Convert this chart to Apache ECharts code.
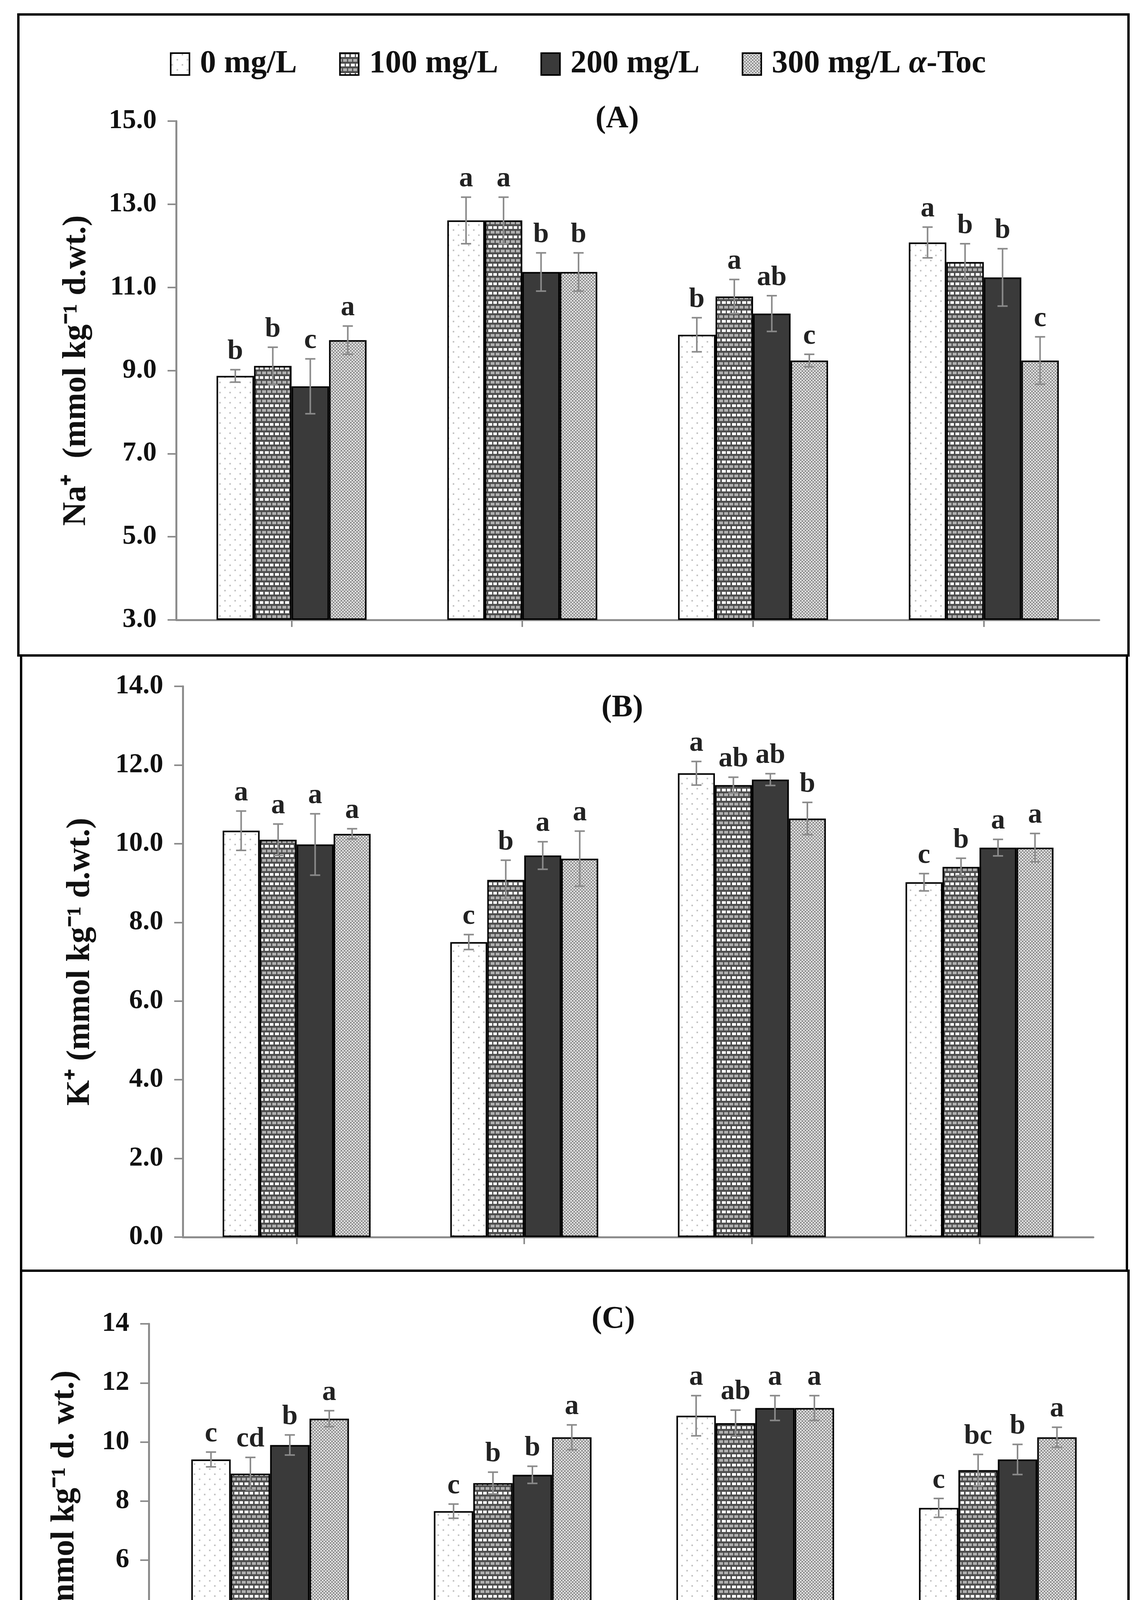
<!DOCTYPE html>
<html>
<head>
<meta charset="utf-8">
<script src="https://cdn.jsdelivr.net/npm/echarts@6/dist/echarts.min.js"></script>
<style>
  html, body { margin: 0; padding: 0; background: #fff; }
  #main { width: 2898px; height: 4947px; }
</style>
</head>
<body>
<div id="main"></div>
<script>
const doses = ['0 mg/L', '100 mg/L', '200 mg/L', '300 mg/L α-Toc']
const treatments = ['Control', 'Saline', 'Control', 'Saline']
const varieties = ['Sabzpari', 'Noori']

const naTicks = [3, 5, 7, 9, 11, 13, 15]
const kTicks = [0, 2, 4, 6, 8, 10, 12, 14]
const caTicks = [0, 2, 4, 6, 8, 10, 12, 14]

// rows = dose, columns = Sabzpari control, Sabzpari saline, Noori control, Noori saline
const naMean = [
  [8.87, 12.61, 9.86, 12.08],
  [9.11, 12.61, 10.78, 11.61],
  [8.62, 11.37, 10.37, 11.24],
  [9.73, 11.37, 9.24, 9.24]
]
const naErr = [
  [0.15, 0.56, 0.41, 0.37],
  [0.45, 0.56, 0.41, 0.44],
  [0.66, 0.46, 0.43, 0.69],
  [0.34, 0.46, 0.15, 0.57]
]
const naLetters = [
  ['b', 'a', 'b', 'a'],
  ['b', 'a', 'a', 'b'],
  ['c', 'b', 'ab', 'b'],
  ['a', 'b', 'c', 'c']
]

const kMean = [
  [10.33, 7.50, 11.79, 9.02],
  [10.10, 9.08, 11.49, 9.41],
  [9.98, 9.70, 11.63, 9.90],
  [10.25, 9.62, 10.64, 9.90]
]
const kErr = [
  [0.50, 0.19, 0.30, 0.22],
  [0.40, 0.50, 0.20, 0.22],
  [0.78, 0.35, 0.15, 0.21],
  [0.13, 0.70, 0.41, 0.36]
]
const kLetters = [
  ['a', 'c', 'a', 'c'],
  ['a', 'b', 'ab', 'b'],
  ['a', 'a', 'ab', 'a'],
  ['a', 'a', 'b', 'a']
]

const caMean = [
  [9.41, 7.66, 10.89, 7.77],
  [8.93, 8.61, 10.64, 9.05],
  [9.90, 8.89, 11.15, 9.41],
  [10.79, 10.16, 11.15, 10.16]
]
const caErr = [
  [0.25, 0.24, 0.68, 0.32],
  [0.55, 0.37, 0.44, 0.53],
  [0.34, 0.29, 0.42, 0.51],
  [0.27, 0.42, 0.42, 0.34]
]
const caLetters = [
  ['c', 'c', 'a', 'c'],
  ['cd', 'b', 'ab', 'bc'],
  ['b', 'b', 'a', 'b'],
  ['a', 'a', 'a', 'a']
]

const FONT = '"Liberation Serif", "Times New Roman", serif'
const GREY = '#8c8c8c'

function makePattern (w, h, draw) {
  let c = document.createElement('canvas')
  c.width = w
  c.height = h
  draw(c.getContext('2d'))
  return { image: c, repeat: 'repeat' }
}

const dotFill = makePattern(26, 26, g => {
  g.fillStyle = '#fff'
  g.fillRect(0, 0, 26, 26)
  g.fillStyle = '#c4c4c4'
  g.fillRect(2, 2, 4, 4)
  g.fillRect(15, 15, 4, 4)
})
const brickFill = makePattern(26, 24, g => {
  g.fillStyle = '#4e4e4e'
  g.fillRect(0, 0, 26, 24)
  g.fillStyle = '#fff'
  g.fillRect(2, 3, 10, 7)
  g.fillRect(15, 3, 9, 7)
  g.fillStyle = '#b0b0b0'
  g.fillRect(8, 15, 10, 7)
  g.fillRect(21, 15, 5, 7)
  g.fillRect(0, 15, 5, 7)
})
const checkFill = makePattern(8, 8, g => {
  g.fillStyle = '#e4e4e4'
  g.fillRect(0, 0, 8, 8)
  g.fillStyle = '#8e8e8e'
  g.fillRect(0, 0, 4, 4)
  g.fillRect(4, 4, 4, 4)
})
const fills = [dotFill, brickFill, '#3a3a3a', checkFill]

const panels = [
  {
    mean: naMean, err: naErr, letters: naLetters, ticks: naTicks, fixed: 1,
    name: 'Na⁺  (mmol kg⁻¹ d.wt.)', nameGap: 213, xIndex: 0,
    grid: { left: 451, top: 310, width: 2363, height: 1277 }
  },
  {
    mean: kMean, err: kErr, letters: kLetters, ticks: kTicks, fixed: 1,
    name: 'K⁺ (mmol kg⁻¹ d.wt.)', nameGap: 220, xIndex: 1,
    grid: { left: 468, top: 1757, width: 2331, height: 1410 }
  },
  {
    mean: caMean, err: caErr, letters: caLetters, ticks: caTicks, fixed: 0,
    name: 'Ca²⁺ (mmol kg⁻¹ d. wt.)', nameGap: 173, xIndex: 2,
    grid: { left: 381, top: 3389, width: 2484, height: 1059 }
  }
]

function errorSeries (k, p, d) {
  return {
    type: 'custom',
    xAxisIndex: p.xIndex,
    yAxisIndex: k,
    z: 5,
    silent: true,
    data: p.mean[d].map((v, i) => [i, v, p.err[d][i]]),
    renderItem (params, api) {
      let i = api.value(0)
      let v = api.value(1)
      let e = api.value(2)
      let bw = api.size([1, 0])[0] * 0.65 / 4
      let hi = api.coord([i, v + e])
      let lo = api.coord([i, v - e])
      let x = hi[0] + (d - 1.5) * bw
      let cap = 13
      let ls = { stroke: '#8a8a8a', lineWidth: 4 }
      return {
        type: 'group',
        children: [
          { type: 'line', shape: { x1: x, y1: hi[1], x2: x, y2: lo[1] }, style: ls },
          { type: 'line', shape: { x1: x - cap, y1: hi[1], x2: x + cap, y2: hi[1] }, style: ls },
          { type: 'line', shape: { x1: x - cap, y1: lo[1], x2: x + cap, y2: lo[1] }, style: ls },
          {
            type: 'text',
            x: x,
            y: hi[1] - 10,
            style: {
              text: p.letters[d][params.dataIndex],
              align: 'center',
              verticalAlign: 'bottom',
              fontSize: 72,
              fontWeight: 'bold',
              fontFamily: FONT,
              fill: '#222'
            }
          }
        ]
      }
    }
  }
}

let grids = []
let xAxes = []
let yAxes = []
let series = []

panels.forEach((p, k) => {
  grids.push(p.grid)
  yAxes.push({
    type: 'value',
    gridIndex: k,
    position: 'left',
    min: p.ticks[0],
    max: p.ticks[p.ticks.length - 1],
    interval: 2,
    startValue: p.ticks[0],
    axisLine: { show: true, lineStyle: { color: GREY, width: 5 } },
    axisTick: { show: true, length: 22, customValues: p.ticks, lineStyle: { color: GREY, width: 4 } },
    axisLabel: {
      customValues: p.ticks,
      formatter: v => Number(v).toFixed(p.fixed),
      fontFamily: FONT,
      fontWeight: 'bold',
      fontSize: 70,
      color: '#111',
      margin: 50
    },
    splitLine: { show: false },
    name: p.name,
    nameLocation: 'middle',
    nameGap: p.nameGap,
    nameTextStyle: { fontFamily: FONT, fontWeight: 'bold', fontSize: 84, color: '#111' }
  })
  doses.forEach((dose, d) => {
    series.push({
      name: dose,
      type: 'bar',
      xAxisIndex: p.xIndex,
      yAxisIndex: k,
      barGap: '0%',
      barCategoryGap: '35%',
      itemStyle: { color: fills[d], borderColor: '#000', borderWidth: 4 },
      data: p.mean[d]
    })
  })
  doses.forEach((dose, d) => series.push(errorSeries(k, p, d)))
})

// panels A and B: plain category axes, ticks at group centres
xAxes.push({
  type: 'category', gridIndex: 0, position: 'bottom', data: treatments,
  axisLine: { show: true, lineStyle: { color: GREY, width: 5 } },
  axisTick: { show: true, alignWithLabel: true, length: 18, lineStyle: { color: GREY, width: 4 } },
  axisLabel: { show: false }
})
xAxes.push({
  type: 'category', gridIndex: 1, position: 'bottom', data: treatments,
  axisLine: { show: true, lineStyle: { color: GREY, width: 5 } },
  axisTick: { show: true, alignWithLabel: true, length: 18, lineStyle: { color: GREY, width: 4 } },
  axisLabel: { show: false }
})
// panel C: treatment labels, ticks at boundaries
xAxes.push({
  type: 'category', gridIndex: 2, position: 'bottom', data: treatments,
  axisLine: { show: true, lineStyle: { color: GREY, width: 5 } },
  axisTick: { show: true, length: 26, lineStyle: { color: GREY, width: 4 } },
  axisLabel: { fontFamily: FONT, fontSize: 84, color: '#111', margin: 66 }
})
// panel C: extra ticks at group centres
xAxes.push({
  type: 'category', gridIndex: 2, position: 'bottom', offset: 0, data: treatments,
  axisLine: { show: false },
  axisTick: { show: true, alignWithLabel: true, length: 26, lineStyle: { color: GREY, width: 4 } },
  axisLabel: { show: true, color: 'rgba(0,0,0,0)' }
})
// panel C: variety level with long separators
xAxes.push({
  type: 'category', gridIndex: 2, position: 'bottom', offset: 0, data: varieties,
  axisLine: { show: false },
  axisTick: { show: true, length: 340, lineStyle: { color: GREY, width: 4 } },
  axisLabel: { fontFamily: FONT, fontSize: 84, color: '#111', margin: 250 },
  name: 'Variety',
  nameLocation: 'middle',
  nameGap: 352,
  nameTextStyle: { fontFamily: FONT, fontSize: 84, color: '#111' }
})

const frames = [
  [47, 37, 2842, 1641],
  [54, 1678, 2831, 1575],
  [54, 3253, 2835, 1643]
]
const titles = [['(A)', 1580, 305], ['(B)', 1593, 1813], ['(C)', 1570, 3378]]

let graphic = frames.map(f => ({
  type: 'rect',
  shape: { x: f[0], y: f[1], width: f[2], height: f[3] },
  style: { fill: 'none', stroke: '#000', lineWidth: 6 },
  silent: true
})).concat(titles.map(t => ({
  type: 'text',
  x: t[1],
  y: t[2],
  style: {
    text: t[0], align: 'center', verticalAlign: 'middle',
    fontFamily: FONT, fontWeight: 'bold', fontSize: 80, fill: '#111'
  },
  silent: true
})))

let chart = echarts.init(document.getElementById('main'), null, { renderer: 'canvas' })
chart.setOption({
  animation: false,
  backgroundColor: '#fff',
  legend: {
    data: doses,
    left: 430,
    top: 118,
    icon: 'rect',
    itemWidth: 48,
    itemHeight: 56,
    itemGap: 108,
    itemStyle: { borderColor: '#000', borderWidth: 4 },
    formatter: n => n.replace('α', '{i|α}'),
    textStyle: {
      fontFamily: FONT, fontWeight: 'bold', fontSize: 82, color: '#111',
      padding: [0, 0, 0, 22],
      rich: { i: { fontFamily: FONT, fontWeight: 'bold', fontStyle: 'italic', fontSize: 82, color: '#111' } }
    }
  },
  grid: grids,
  xAxis: xAxes,
  yAxis: yAxes,
  series: series,
  graphic: graphic
})
</script>
</body>
</html>
